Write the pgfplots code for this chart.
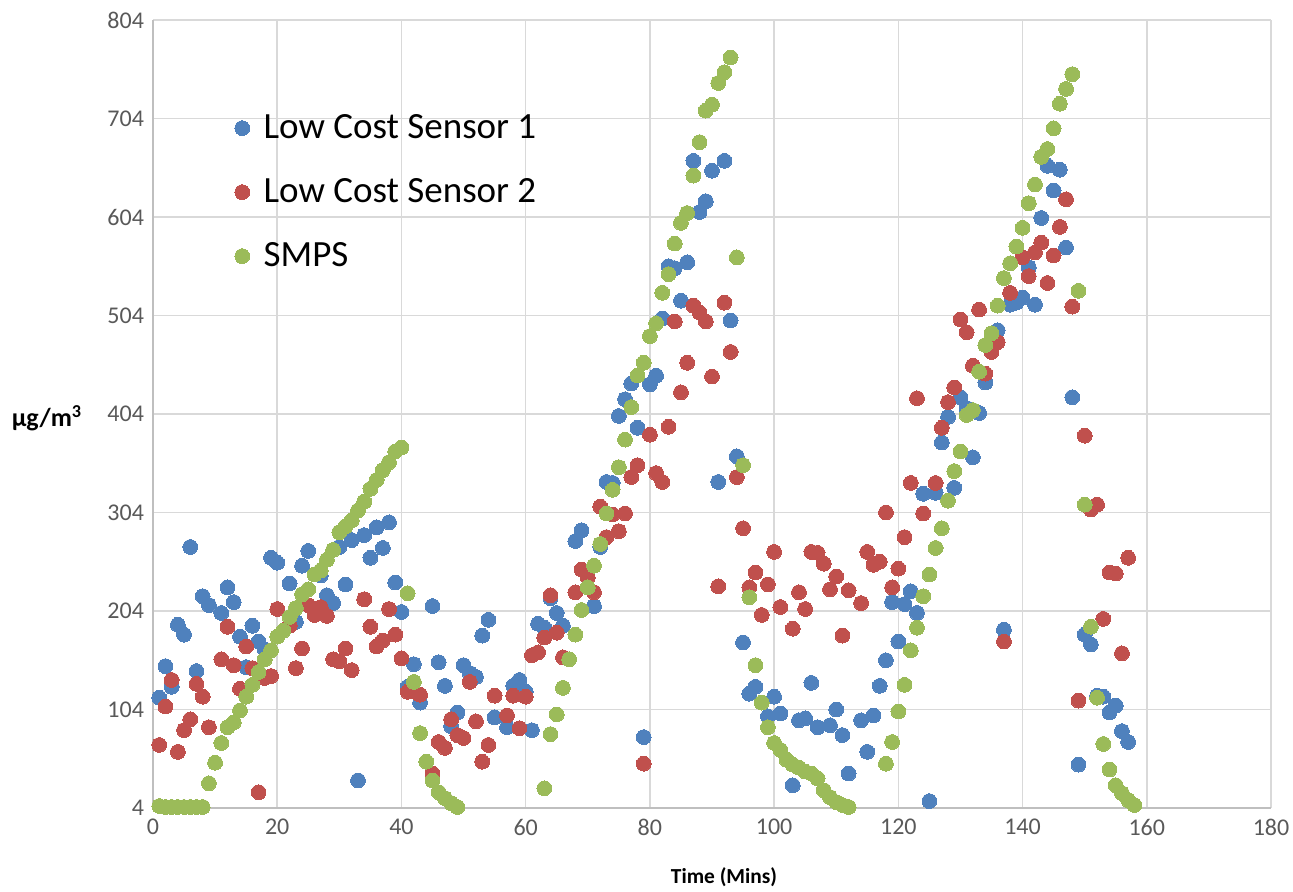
\documentclass[border=0pt]{standalone}
\usepackage{fontspec}
\setmainfont{Carlito}
\usepackage{pgfplots}
\pgfplotsset{compat=1.18}
\definecolor{sblue}{HTML}{4F81BD}
\definecolor{sred}{HTML}{C0504D}
\definecolor{sgreen}{HTML}{9BBB59}
\definecolor{tickgray}{HTML}{595959}
\definecolor{gridgray}{HTML}{D9D9D9}
\definecolor{axisgray}{HTML}{BFBFBF}
\begin{document}
\begin{tikzpicture}
\begin{axis}[
  scale only axis,
  width=559pt, height=394pt,
  xmin=0, xmax=180, ymin=4, ymax=804,
  xtick={0,20,...,180},
  ytick={4,104,204,304,404,504,604,704,804},
  grid=major,
  major grid style={gridgray, line width=0.8pt},
  axis x line*=bottom, axis y line*=left,
  axis line style={axisgray, line width=0.9pt, -},
  major tick length=0pt,
  /pgf/number format/assume math mode=true,
  tick label style={font=\fontsize{12}{14}\selectfont, text=tickgray},
  yticklabel style={xshift=-1pt},
  xticklabel style={yshift=-2pt},
  xlabel={Time (Mins)},
  xlabel style={at={(axis description cs:0.5,0)}, anchor=center, yshift=-34.5pt, xshift=6pt, font=\bfseries\fontsize{10.7}{12}\selectfont},
  ylabel={μg/m\textsuperscript{3}},
  ylabel style={at={(axis description cs:0,0.5)}, rotate=-90, anchor=center, xshift=-53pt, yshift=-2pt, font=\bfseries\fontsize{13}{15}\selectfont},
  legend cell align=left,
  legend image code/.code={\draw[#1] plot coordinates {(0pt,0pt)};},
  legend style={draw=none, fill=none, at={(axis description cs:0.0675,0.8906)}, anchor=north west,
    font=\fontsize{18.5}{22}\selectfont, row sep=14.5pt,
    /tikz/every odd column/.append style={column sep=5pt}},
]
\addplot[only marks, mark=*, mark size=3.7pt, mark options={draw=sblue, fill=sblue, line width=0pt}] coordinates {
(1,116)(2,148)(3,127)(4,190)(5,180)(6,269)(7,143)(8,219)(9,210)(11,202)(12,228)(13,213)(14,178)(15,147)(16,189)(17,173)(18,165)(19,258)(20,253)(22,232)(23,193)(24,250)(25,265)(27,240)(28,220)(29,212)(30,269)(31,231)(32,276)(33,32)(34,281)(35,258)(36,289)(37,268)(38,294)(39,233)(40,203)(41,127)(42,150)(43,111)(45,209)(46,152)(47,128)(48,87)(49,101)(50,149)(51,141)(52,137)(53,179)(54,195)(55,96)(57,86)(58,128)(59,134)(60,122)(61,83)(62,191)(63,187)(64,217)(65,202)(66,189)(68,275)(69,286)(71,209)(72,269)(73,335)(74,334)(75,402)(76,419)(77,435)(78,390)(79,76)(80,434)(81,443)(82,501)(83,554)(84,552)(85,519)(86,558)(87,661)(88,609)(89,620)(90,651)(91,335)(92,661)(93,499)(94,361)(95,172)(96,120)(97,127)(99,97)(100,117)(101,100)(103,27)(104,93)(105,95)(106,131)(107,86)(109,88)(110,104)(111,78)(112,39)(114,93)(115,61)(116,98)(117,128)(118,154)(119,213)(120,173)(121,211)(122,224)(123,202)(124,323)(125,11)(126,324)(127,375)(128,401)(129,329)(130,421)(131,410)(132,360)(133,405)(134,436)(136,489)(137,185)(138,515)(139,517)(140,522)(141,553)(142,515)(143,603)(144,656)(145,631)(146,652)(147,573)(148,421)(149,48)(150,180)(151,170)(152,118)(153,117)(154,101)(155,108)(156,82)(157,71)
};
\addlegendentry{Low Cost Sensor 1}
\addplot[only marks, mark=*, mark size=3.7pt, mark options={draw=sred, fill=sred, line width=0pt}] coordinates {
(1,68)(2,107)(3,134)(4,61)(5,83)(6,94)(7,130)(8,117)(9,86)(11,155)(12,188)(13,149)(14,125)(15,168)(16,146)(17,20)(18,136)(19,138)(20,206)(22,189)(23,146)(24,166)(25,210)(26,200)(27,208)(28,199)(29,155)(30,153)(31,166)(32,144)(34,216)(35,188)(36,168)(37,174)(38,206)(39,180)(40,156)(41,122)(42,122)(43,119)(45,39)(46,71)(47,65)(48,94)(49,78)(50,75)(51,132)(52,92)(53,51)(54,68)(55,118)(57,98)(58,118)(59,85)(60,117)(61,159)(62,162)(63,177)(64,220)(65,182)(66,157)(68,223)(69,246)(70,238)(71,223)(72,310)(73,279)(74,302)(75,285)(76,303)(77,340)(78,352)(79,49)(80,383)(81,344)(82,335)(83,391)(84,498)(85,426)(86,456)(87,514)(88,507)(89,498)(90,442)(91,229)(92,517)(93,467)(94,340)(95,288)(96,228)(97,243)(98,200)(99,231)(100,264)(101,208)(103,186)(104,223)(105,206)(106,264)(107,263)(108,252)(109,226)(110,239)(111,179)(112,225)(114,212)(115,264)(116,251)(117,254)(118,304)(119,228)(120,247)(121,279)(122,334)(123,420)(124,303)(126,334)(127,390)(128,416)(129,431)(130,500)(131,487)(132,453)(133,510)(134,445)(135,467)(136,477)(137,173)(138,527)(140,563)(141,544)(142,568)(143,578)(144,537)(145,565)(146,594)(147,622)(148,513)(149,113)(150,382)(151,307)(152,312)(153,196)(154,243)(155,242)(156,161)(157,258)
};
\addlegendentry{Low Cost Sensor 2}
\addplot[only marks, mark=*, mark size=3.7pt, mark options={draw=sgreen, fill=sgreen, line width=0pt}] coordinates {
(1,6)(2,5)(3,5)(4,5)(5,5)(6,5)(7,5)(8,5)(9,29)(10,50)(11,70)(12,86)(13,91)(14,103)(15,117)(16,129)(17,142)(18,155)(19,164)(20,178)(21,184)(22,198)(23,207)(24,221)(25,226)(26,241)(27,245)(28,256)(29,266)(30,284)(31,290)(32,296)(33,306)(34,315)(35,328)(36,337)(37,347)(38,355)(39,366)(40,370)(41,222)(42,132)(43,80)(44,51)(45,32)(46,20)(47,14)(48,9)(49,5)
(63,24)(64,79)(65,99)(66,126)(67,155)(68,180)(69,205)(70,228)(71,250)(72,272)(73,303)(74,327)(75,350)(76,378)(77,411)(78,443)(79,456)(80,483)(81,496)(82,527)(83,546)(84,577)(85,598)(86,608)(87,646)(88,680)(89,712)(90,718)(91,740)(92,751)(93,766)(94,563)(95,352)(96,218)(97,149)(98,111)(99,86)(100,70)(101,63)(102,53)(103,48)(104,45)(105,41)(106,39)(107,34)(108,22)(109,15)(110,10)(111,7)(112,5)
(118,49)(119,71)(120,102)(121,129)(122,164)(123,187)(124,219)(125,241)(126,268)(127,288)(128,316)(129,346)(130,366)(131,403)(132,408)(133,447)(134,474)(135,486)(136,514)(137,542)(138,557)(139,574)(140,593)(141,618)(142,637)(143,665)(144,673)(145,694)(146,719)(147,734)(148,749)(149,529)(150,312)(151,188)(152,116)(153,69)(154,43)(155,27)(156,19)(157,12)(158,7)
};
\addlegendentry{SMPS}
\end{axis}
\pgfresetboundingbox
\path[use as bounding box] (-76.5pt,-42pt) rectangle (570pt,404pt);
\end{tikzpicture}
\end{document}
